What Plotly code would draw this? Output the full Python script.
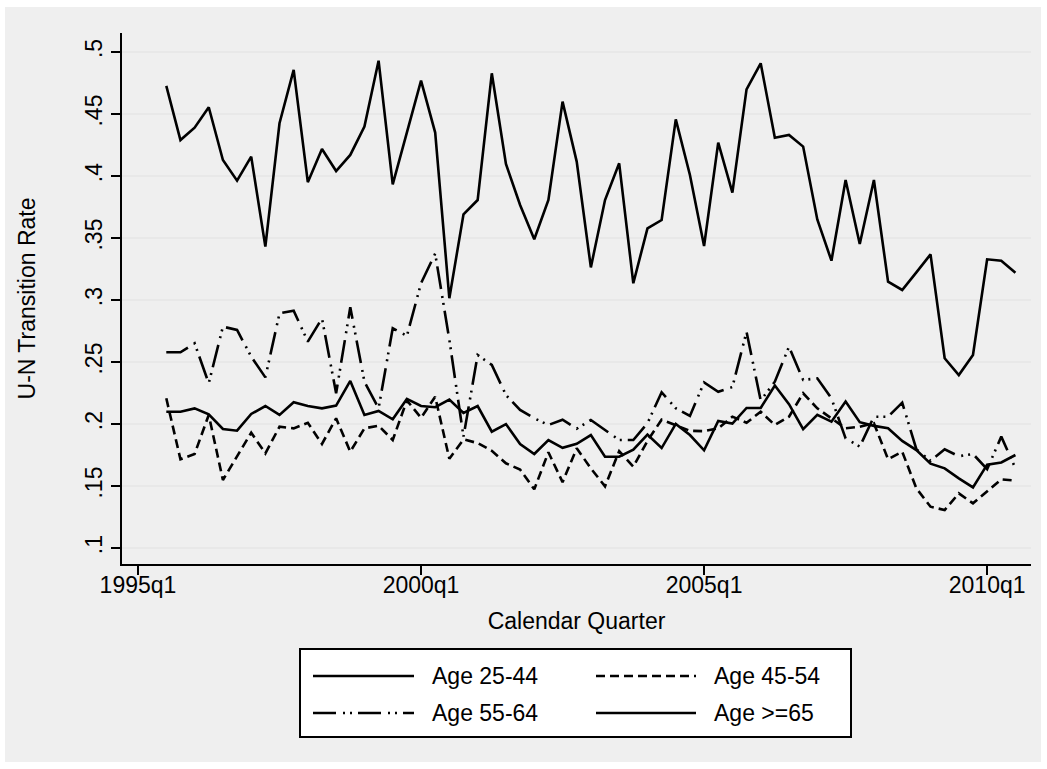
import plotly.graph_objects as go

# ---------------- data ----------------
quarters = [f"{y}q{q}" for y in range(1995, 2011) for q in range(1, 5)][2:63]  # 1995q3 .. 2010q3

age_25_44 = [0.2099, 0.2099, 0.2126, 0.2078, 0.1960, 0.1946, 0.2081, 0.2145, 0.2073, 0.2175,
             0.2145, 0.2126, 0.2148, 0.2347, 0.2073, 0.2105, 0.2038, 0.2202, 0.2145, 0.2135,
             0.2197, 0.2090, 0.2145, 0.1938, 0.1999, 0.1838, 0.1758, 0.1871, 0.1808, 0.1840,
             0.1911, 0.1736, 0.1736, 0.1793, 0.1914, 0.1806, 0.2001, 0.1911, 0.1788, 0.2025,
             0.2003, 0.2129, 0.2129, 0.2310, 0.2160, 0.1958, 0.2073, 0.2019, 0.2182, 0.2015,
             0.1985, 0.1965, 0.1864, 0.1790, 0.1680, 0.1642, 0.1562, 0.1489, 0.1672, 0.1690,
             0.1750]
age_45_54 = [0.2207, 0.1715, 0.1758, 0.2073, 0.1548, 0.1737, 0.1930, 0.1763, 0.1978, 0.1965,
             0.2010, 0.1839, 0.2046, 0.1777, 0.1965, 0.1987, 0.1871, 0.2190, 0.2050, 0.2220,
             0.1720, 0.1876, 0.1846, 0.1784, 0.1683, 0.1633, 0.1473, 0.1772, 0.1531, 0.1804,
             0.1642, 0.1497, 0.1781, 0.1656, 0.1864, 0.2035, 0.1992, 0.1945, 0.1942, 0.1965,
             0.2059, 0.2010, 0.2099, 0.1992, 0.2059, 0.2248, 0.2126, 0.2046, 0.1965, 0.1978,
             0.2006, 0.1716, 0.1777, 0.1481, 0.1333, 0.1306, 0.1441, 0.1360, 0.1454, 0.1554,
             0.1543]
age_55_64 = [0.2578, 0.2578, 0.2651, 0.2328, 0.2785, 0.2758, 0.2543, 0.2376, 0.2892, 0.2914,
             0.2664, 0.2852, 0.2248, 0.2941, 0.2341, 0.2126, 0.2772, 0.2710, 0.3135, 0.3374,
             0.2680, 0.1898, 0.2556, 0.2476, 0.2234, 0.2113, 0.2046, 0.1992, 0.2035, 0.1962,
             0.2032, 0.1952, 0.1871, 0.1871, 0.2006, 0.2256, 0.2127, 0.2065, 0.2335, 0.2260,
             0.2298, 0.2744, 0.2190, 0.2341, 0.2623, 0.2355, 0.2368, 0.2207, 0.1884, 0.1817,
             0.2059, 0.2059, 0.2172, 0.1797, 0.1703, 0.1796, 0.1740, 0.1758, 0.1636, 0.1898,
             0.1642]
age_65_plus = [0.4726, 0.4290, 0.4390, 0.4554, 0.4129, 0.3962, 0.4156, 0.3430, 0.4425, 0.4855,
               0.3950, 0.4218, 0.4040, 0.4170, 0.4398, 0.4930, 0.3933, 0.4350, 0.4769, 0.4350,
               0.3014, 0.3691, 0.3806, 0.4828, 0.4097, 0.3766, 0.3490, 0.3806, 0.4600, 0.4116,
               0.3263, 0.3806, 0.4102, 0.3135, 0.3578, 0.3645, 0.4457, 0.4008, 0.3435, 0.4269,
               0.3866, 0.4699, 0.4909, 0.4309, 0.4331, 0.4237, 0.3650, 0.3317, 0.3968, 0.3452,
               0.3968, 0.3148, 0.3081, 0.3223, 0.3368, 0.2530, 0.2395, 0.2556, 0.3328, 0.3317,
               0.3220]

x_tick_labels = ["1995q1", "2000q1", "2005q1", "2010q1"]
y_tick_values = [0.1, 0.15, 0.2, 0.25, 0.3, 0.35, 0.4, 0.45, 0.5]
y_tick_labels = [".1", ".15", ".2", ".25", ".3", ".35", ".4", ".45", ".5"]

series_names = ["Age 25-44", "Age 45-54", "Age 55-64", "Age >=65"]


def qindex(label):
    y, q = label.split("q")
    return (int(y) - 1995) * 4 + int(q) - 1


x = [qindex(s) for s in quarters]
x_tick_values = [qindex(s) for s in x_tick_labels]

# ---------------- styling ----------------
FONT = "Liberation Sans, Arial, sans-serif"
FS = 23
DASH_SOLID = "solid"
DASH_DASHED = "9px,5px"
DASH_LDD = "23px,7px,2px,5px,2px,6px"
styles = [DASH_SOLID, DASH_DASHED, DASH_LDD, DASH_SOLID]
LW = 2.6

fig = go.Figure()
for name, vals, dash in zip(series_names, [age_25_44, age_45_54, age_55_64, age_65_plus], styles):
    fig.add_trace(go.Scatter(x=x, y=vals, mode="lines", name=name,
                             line=dict(color="black", width=LW, dash=dash),
                             showlegend=False))

# pixel layout helpers
L, R, T, B = 122, 1031, 33, 564
W, H = R - L, B - T


def px(v):
    return (v - L) / W


def py(v):
    return (B - v) / H


shapes = [
    # outer gray graph region
    dict(type="rect", xref="paper", yref="paper", x0=px(5), x1=px(1041), y0=py(762), y1=py(7),
         fillcolor="#efefef", line=dict(width=0), layer="below"),
    # legend box
    dict(type="rect", xref="paper", yref="paper", x0=px(300), x1=px(851), y0=py(737), y1=py(649),
         fillcolor="white", line=dict(color="black", width=2)),
]
annotations = []
legend_pos = [(313, 414, 430, 676), (596, 696, 712, 676), (313, 414, 430, 713), (596, 696, 712, 713)]
for name, dash, (sx0, sx1, tx, ry) in zip(series_names, styles, legend_pos):
    shapes.append(dict(type="line", xref="paper", yref="paper", x0=px(sx0), x1=px(sx1),
                       y0=py(ry), y1=py(ry), line=dict(color="black", width=LW, dash=dash)))
    annotations.append(dict(xref="paper", yref="paper", x=px(tx), y=py(ry), text=name,
                            showarrow=False, xanchor="left", yanchor="middle",
                            font=dict(family=FONT, size=FS, color="black")))

fig.update_layout(
    width=1047, height=769,
    margin=dict(l=L, r=1047 - R, t=T, b=769 - B, pad=0),
    paper_bgcolor="white",
    plot_bgcolor="white",
    font=dict(family=FONT, size=FS, color="black"),
    shapes=shapes,
    annotations=annotations,
    showlegend=False,
    xaxis=dict(range=[-1.13, 63.1], tickmode="array", tickvals=x_tick_values, ticktext=x_tick_labels,
               ticks="outside", ticklen=9, tickwidth=2, tickcolor="black", ticklabelstandoff=-10,
               showline=True, linewidth=2, linecolor="black", showgrid=False, zeroline=False,
               title=dict(text="Calendar Quarter", standoff=16, font=dict(size=FS))),
    yaxis=dict(range=[0.0871, 0.5153], tickmode="array", tickvals=y_tick_values, ticktext=y_tick_labels,
               tickangle=-90, ticks="outside", ticklen=9, tickwidth=2, tickcolor="black",
               showline=True, linewidth=2, linecolor="black", showgrid=True,
               gridcolor="#e8e8e8", gridwidth=2, zeroline=False,
               title=dict(text="U-N Transition Rate", standoff=39, font=dict(size=FS))),
)

fig.write_html("out.html")
